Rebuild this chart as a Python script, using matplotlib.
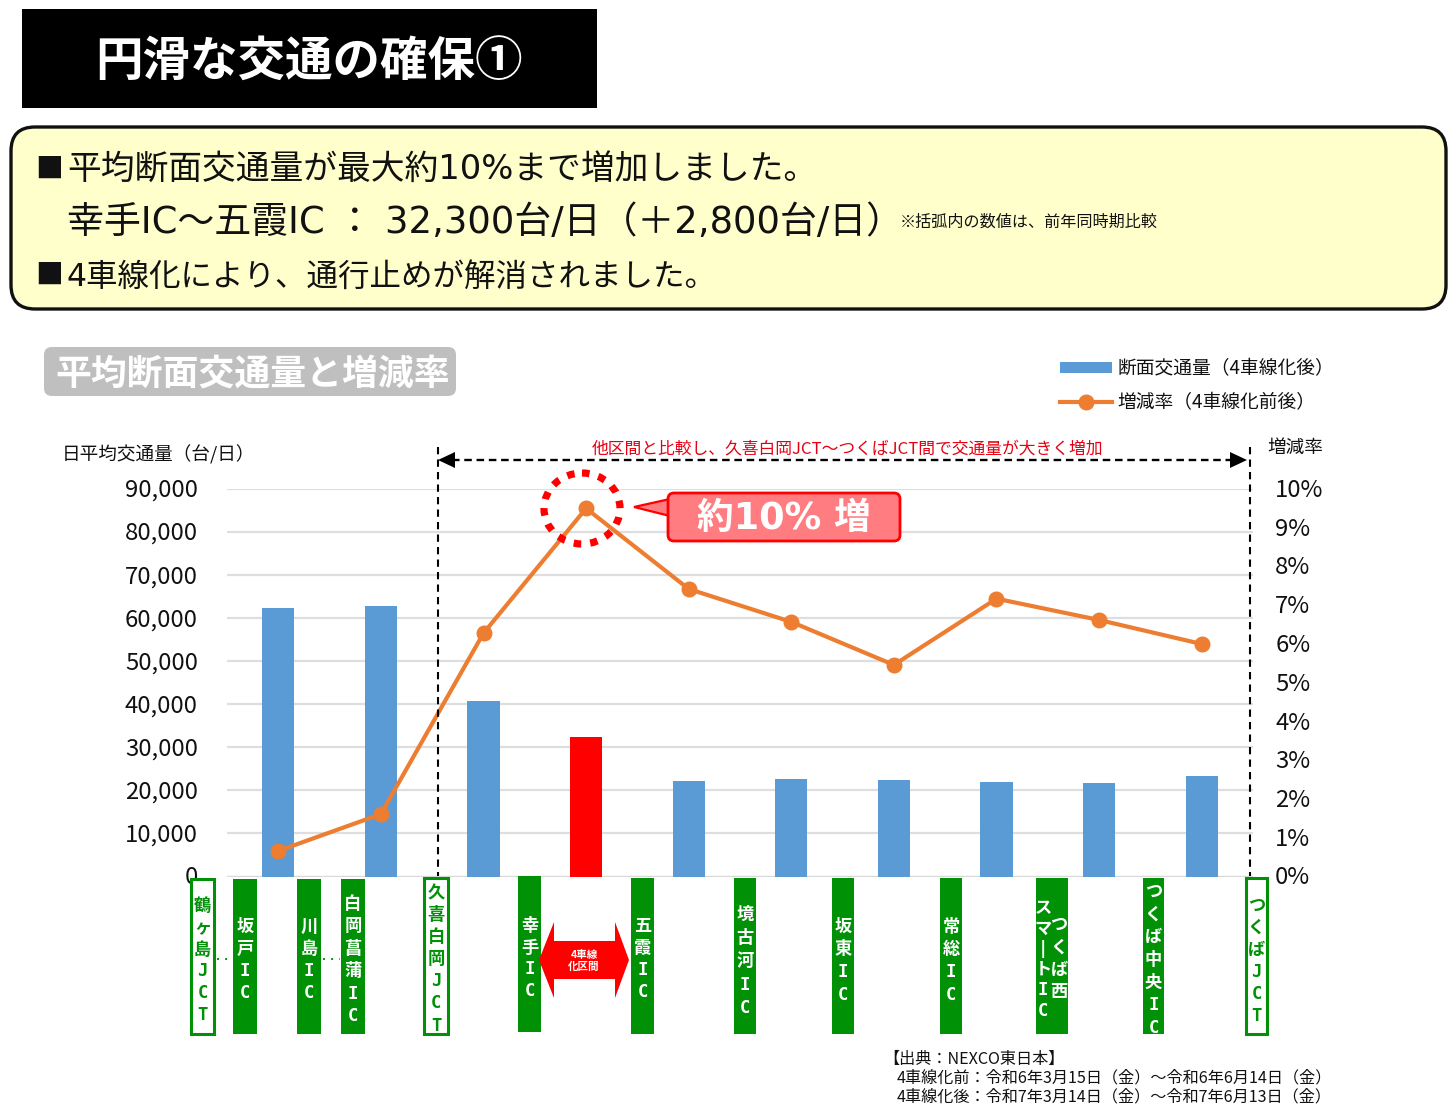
import matplotlib
matplotlib.use("Agg")
import matplotlib.pyplot as plt
from matplotlib.patches import Rectangle, FancyBboxPatch, Polygon, Ellipse
from matplotlib.lines import Line2D
from matplotlib.ticker import FuncFormatter
from matplotlib.transforms import ScaledTranslation

plt.rcParams['font.family'] = ['Noto Sans CJK JP', 'DejaVu Sans']

W, H = 1452, 1111

# ---- data ----
traffic = [62300, 62800, 40700, 32300, 22200, 22700, 22300, 22000, 21800, 23300]
change_pct = [0.66, 1.61, 6.28, 9.5, 7.42, 6.57, 5.46, 7.17, 6.62, 6.0]
bar_colors = ['#5B9BD5', '#5B9BD5', '#5B9BD5', '#FF0000', '#5B9BD5', '#5B9BD5',
              '#5B9BD5', '#5B9BD5', '#5B9BD5', '#5B9BD5']
left_ticks = [0, 10000, 20000, 30000, 40000, 50000, 60000, 70000, 80000, 90000]
right_ticks = [0, 1, 2, 3, 4, 5, 6, 7, 8, 9, 10]
legend_labels = ['断面交通量（4車線化後）', '増減率（4車線化前後）']
interchange_names = ['鶴ヶ島JCT', '坂戸IC', '川島IC', '白岡菖蒲IC', '久喜白岡JCT', '幸手IC', '五霞IC',
                     '境古河IC', '坂東IC', '常総IC', 'つくば中央IC', 'つくばJCT']

GREEN = '#009107'
LATIN_FIRST = ['DejaVu Sans', 'Noto Sans CJK JP']
MONO_FIRST = ['DejaVu Sans Mono', 'Noto Sans CJK JP']

fig = plt.figure(figsize=(W / 100, H / 100), dpi=100)


def px_axes(x0, y_top, x1, y_bot):
    return [x0 / W, 1 - y_bot / H, (x1 - x0) / W, (y_bot - y_top) / H]


ax = fig.add_axes(px_axes(227, 489, 1253, 876.5))
x = list(range(len(traffic)))
bars = ax.bar(x, traffic, width=0.315, color=bar_colors, zorder=3, label=legend_labels[0])
ax.set_xlim(-0.5, len(traffic) - 0.5)
ax.set_ylim(0, 90000)
ax.set_yticks(left_ticks)
ax.yaxis.set_major_formatter(FuncFormatter(lambda v, p: f'{int(v):,}'))
ax.tick_params(axis='y', length=0, pad=21, labelsize=17.2, labelcolor='#111111')
ax.set_xticks([])
ax.grid(axis='y', color='#DEDEDE', lw=1.6, zorder=0)
for s in ax.spines.values():
    s.set_visible(False)
ax.axhline(0, color='#D9D9D9', lw=1.6, zorder=2)

ax2 = ax.twinx()
line, = ax2.plot(x, change_pct, color='#ED7D31', lw=3, marker='o', ms=10.5, zorder=5,
                 label=legend_labels[1], clip_on=False)
ax2.set_ylim(0, 10)
ax2.set_yticks(right_ticks)
ax2.yaxis.set_major_formatter(FuncFormatter(lambda v, p: f'{int(v)}%'))
ax2.tick_params(axis='y', length=0, pad=16, labelsize=17.2, labelcolor='#111111')
for s in ax2.spines.values():
    s.set_visible(False)
nudge = ScaledTranslation(0, 1 / 100, fig.dpi_scale_trans)
for a in (ax, ax2):
    for lab in a.get_yticklabels():
        lab.set_transform(lab.get_transform() + nudge)

# overlay in pixel coordinates for the annotations around the chart
ov = fig.add_axes([0, 0, 1, 1])
ov.set_xlim(0, W)
ov.set_ylim(H, 0)
ov.axis('off')
ov.patch.set_alpha(0)

TXT = '#111111'

# heading
ov.add_patch(Rectangle((22, 9), 575, 99, fc='black', ec='none'))
ov.text(309, 63, '円滑な交通の確保①', color='white', fontsize=34.2, fontweight='bold',
        ha='center', va='center')

# yellow summary box
ov.add_patch(FancyBboxPatch((11, 127), 1435, 182,
                            boxstyle='round,pad=0,rounding_size=24', fc='#FFFFCC', ec='#111111', lw=2.4))
ov.text(35, 170, '■', fontsize=20, color=TXT, va='center', ha='left')
ov.text(67, 180, '平均断面交通量が最大約10%まで増加しました。', fontsize=24.3, color=TXT, va='baseline', ha='left',
        family=LATIN_FIRST)
ov.text(67, 233, '幸手IC～五霞IC ： 32,300台/日（＋2,800台/日）', fontsize=26.6, color=TXT, va='baseline', ha='left',
        family=LATIN_FIRST)
ov.text(900, 222, '※括弧内の数値は、前年同時期比較', fontsize=11.6, color=TXT, va='center', ha='left')
ov.text(35, 276, '■', fontsize=20, color=TXT, va='center', ha='left')
ov.text(67, 286, '4車線化により、通行止めが解消されました。', fontsize=22.7, color=TXT, va='baseline', ha='left',
        family=LATIN_FIRST)

# grey sub-heading
ov.add_patch(FancyBboxPatch((44, 347), 412, 49, boxstyle='round,pad=0,rounding_size=8',
                            fc='#BFBFBF', ec='none'))
ov.text(253, 374, '平均断面交通量と増減率', color='white', fontsize=25.8, fontweight='bold',
        ha='center', va='center')

# legend
ov.legend(handles=[Rectangle((0, 0), 1, 1, fc='#5B9BD5', ec='none'),
                   Line2D([], [], color='#ED7D31', lw=3, marker='o', ms=10.5)],
          labels=legend_labels, loc='upper left', bbox_to_anchor=(1060 / W, 1 - 358 / H),
          bbox_transform=fig.transFigure, frameon=False, fontsize=13.5, handlelength=2.75,
          handletextpad=0.3, labelspacing=0.72, borderpad=0, borderaxespad=0,
          labelcolor='#111111', handleheight=0.55)

# axis captions
ov.text(62, 455, '日平均交通量（台/日）', fontsize=13.4, color=TXT, va='center', ha='left')
ov.text(1267, 448, '増減率', fontsize=13.4, color=TXT, va='center', ha='left')

# range markers
for xp in (438, 1250):
    ov.add_line(Line2D([xp, xp], [447, 876], color='black', lw=1.5, ls=(0, (3.5, 2.5))))
ov.add_line(Line2D([452, 1232], [460, 460], color='black', lw=1.7, ls=(0, (3.2, 2))))
ov.add_patch(Polygon([[438, 460], [455, 452], [455, 468]], fc='black', ec='none'))
ov.add_patch(Polygon([[1247, 460], [1230, 452], [1230, 468]], fc='black', ec='none'))
ov.text(848, 449, '他区間と比較し、久喜白岡JCT～つくばJCT間で交通量が大きく増加', color='#E60012',
        fontsize=12.1, va='center', ha='center')

# emphasis circle and callout
ov.add_patch(Ellipse((582, 508.5), 76, 71, fc='none', ec='#FF0000', lw=5.2, ls=(0, (1.05, 1.25))))
ov.add_patch(Polygon([[634, 507], [670, 499], [670, 516]], fc='#FF7C80', ec='#FF0000', lw=1.6))
ov.add_patch(FancyBboxPatch((668, 493), 232, 48, boxstyle='round,pad=0,rounding_size=6',
                            fc='#FF7C80', ec='#FF0000', lw=2))
ov.text(784, 518, '約10% 増', color='white', fontsize=26.4, fontweight='bold', va='center', ha='center',
        family=LATIN_FIRST)

# interchange boxes: (left, right, top, bottom, first char y, step, outlined)
box_layout = [
    (191, 214, 879, 1034, 906, 21.8, True),
    (233, 257, 879, 1034, 927, 22, False),
    (297, 321, 879, 1034, 927, 22, False),
    (341, 365, 879, 1034, 904, 22.4, False),
    (424, 448, 878, 1034, 893, 22.1, True),
    (518, 541, 876, 1032, 926, 21.6, False),
    (631, 654, 878, 1034, 926, 22, False),
    (734, 756, 878, 1034, 915, 23.2, False),
    (832, 854, 878, 1034, 927, 22.5, False),
    (940, 962, 878, 1034, 927, 22.5, False),
    (1143, 1164, 878, 1034, 892, 22.6, False),
    (1246, 1267, 878, 1034, 906, 22, True),
]
for name, (x0, x1, y0, y1, first, step, outlined) in zip(interchange_names, box_layout):
    if outlined:
        ov.add_patch(Rectangle((x0, y0), x1 - x0, y1 - y0, fc='white', ec=GREEN, lw=2.2))
    else:
        ov.add_patch(Rectangle((x0, y0), x1 - x0, y1 - y0, fc=GREEN, ec='none'))
    col = GREEN if outlined else 'white'
    for i, ch in enumerate(name):
        ov.text((x0 + x1) / 2, first + i * step, ch, color=col, fontsize=12.4,
                fontweight='bold', ha='center', va='center', family=MONO_FIRST)

# つくば西スマートIC (two columns)
ov.add_patch(Rectangle((1036, 878), 32, 156, fc=GREEN, ec='none'))
for i, ch in enumerate('つくば西'):
    ov.text(1059, 925 + i * 22.5, ch, color='white', fontsize=12.4, fontweight='bold',
            ha='center', va='center', family=MONO_FIRST)
for i, ch in enumerate('スマ|トIC'):
    ov.text(1043, 908 + i * 20.5, ch, color='white', fontsize=12.4, fontweight='bold',
            ha='center', va='center', family=MONO_FIRST)

# dotted connectors
for a, b in ((217, 232), (323, 340)):
    ov.add_line(Line2D([a, b], [959, 959], color=GREEN, lw=1.4, ls=(0, (1, 3.2))))

# 4-lane section arrow
ov.add_patch(Polygon([[539, 960], [554, 922], [554, 941], [615, 941], [615, 922], [629, 960],
                      [615, 998], [615, 979], [554, 979], [554, 998]], fc='#FF0000', ec='none'))
ov.text(584, 961, '4車線\n化区間', color='white', fontsize=7.6, fontweight='bold', ha='center',
        va='center', linespacing=1.15)

# source note
ov.text(883, 1059, '【出典：NEXCO東日本】', fontsize=11.6, color=TXT, va='center', ha='left')
ov.text(897, 1078, '4車線化前：令和6年3月15日（金）～令和6年6月14日（金）', fontsize=11.6, color=TXT, va='center', ha='left')
ov.text(897, 1097, '4車線化後：令和7年3月14日（金）～令和7年6月13日（金）', fontsize=11.6, color=TXT, va='center', ha='left')

fig.savefig('out.png', dpi=100, facecolor='white')
